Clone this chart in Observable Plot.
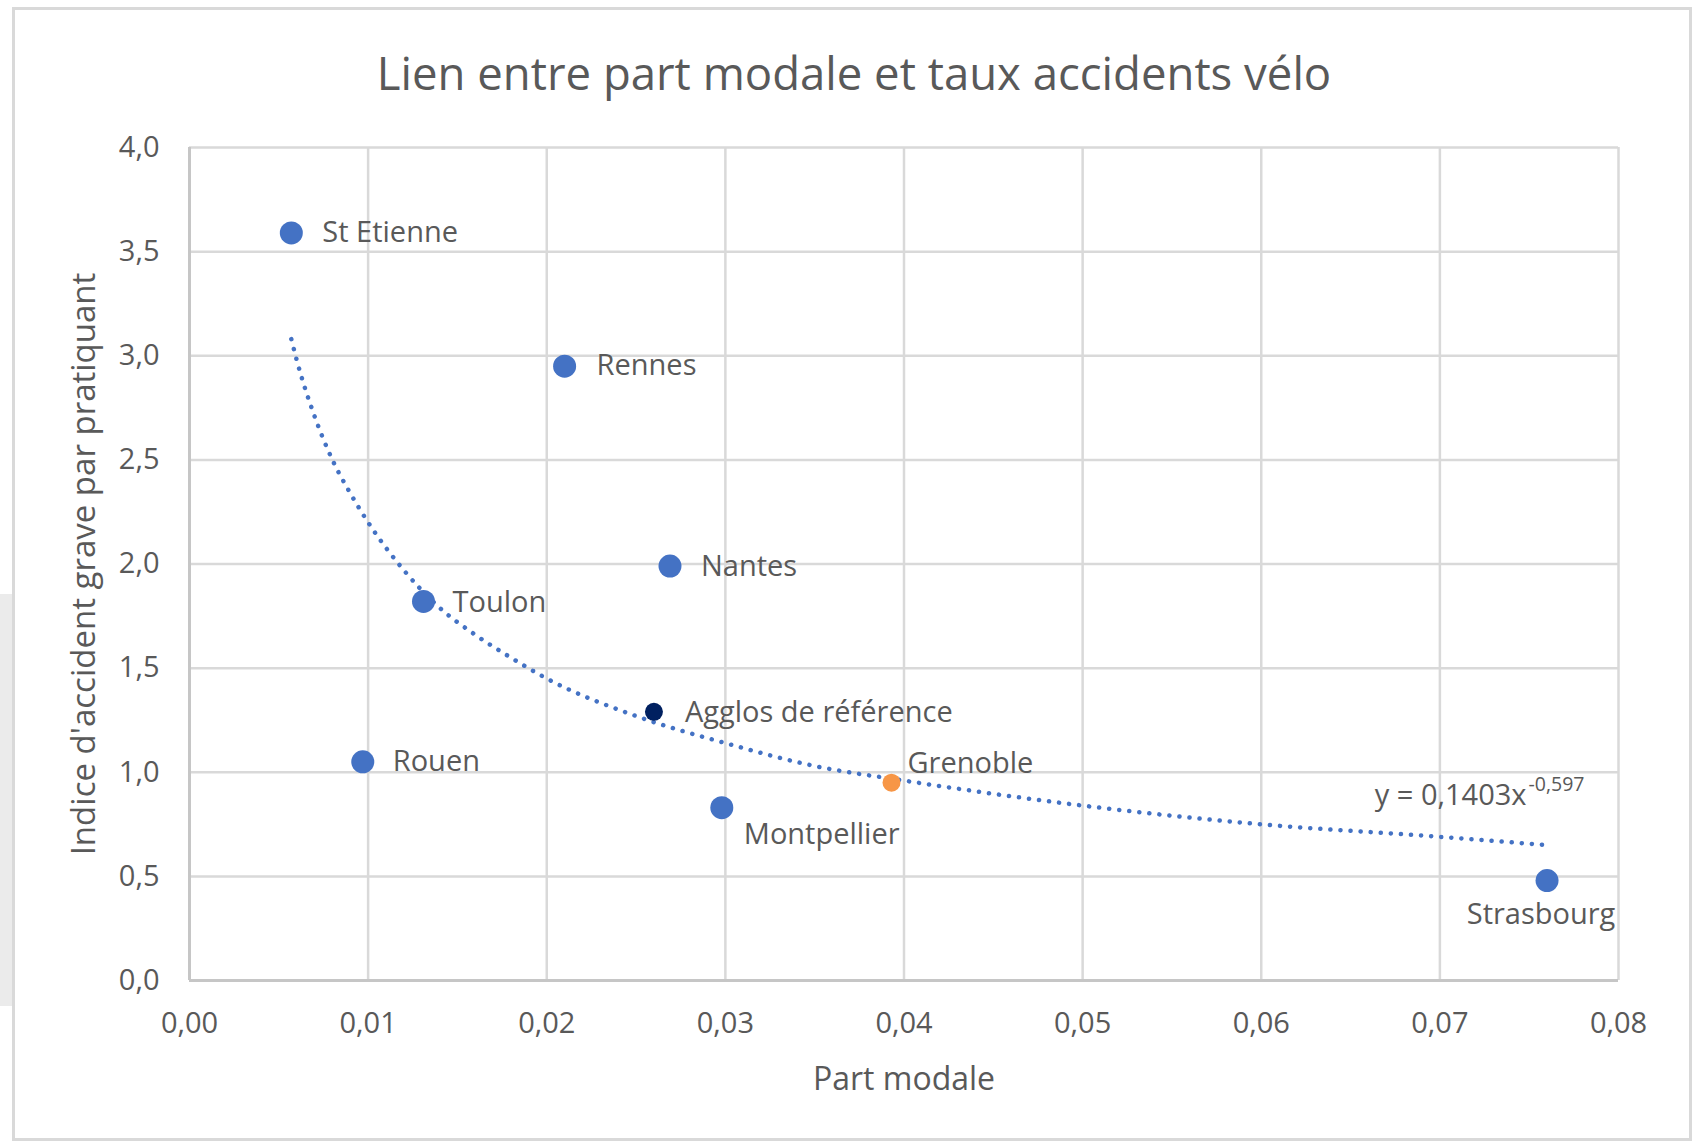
<!DOCTYPE html>
<html>
<head>
<meta charset="utf-8">
<script src="https://cdn.jsdelivr.net/npm/d3@7"></script>
<script src="https://cdn.jsdelivr.net/npm/@observablehq/plot@0.6"></script>
<style>
  html, body { margin: 0; padding: 0; background: #ffffff; }
  #wrap { position: relative; width: 1694px; height: 1143px; overflow: hidden; font-family: "Open Sans", sans-serif; }
  #shade { position: absolute; left: 0; top: 594px; width: 12px; height: 412px; background: #ebebeb; }
  #frame { position: absolute; left: 12px; top: 7px; width: 1680px; height: 1134px; border: 3px solid #d9d9d9; box-sizing: border-box; pointer-events: none; }
  #title { height: 78px; padding-top: 42px; line-height: 60px; font-size: 45.5px; color: #595959; text-align: center; padding-left: 14px; }
  #chart { position: relative; }
</style>
</head>
<body>
<div id="wrap">
  <div id="shade"></div>
  <div id="frame"></div>
  <div id="title">Lien entre part modale et taux accidents vélo</div>
  <div id="chart"></div>
</div>
<script>
// ---- Data ----
const villes = ["St Etienne", "Rennes", "Nantes", "Toulon", "Agglos de référence", "Rouen", "Grenoble", "Montpellier", "Strasbourg"];
const partModale = [0.0057, 0.0210, 0.0269, 0.0131, 0.0260, 0.0097, 0.0393, 0.0298, 0.0760];
const indice = [3.59, 2.95, 1.99, 1.82, 1.29, 1.05, 0.95, 0.83, 0.48];
const groupe = ["Ville", "Ville", "Ville", "Ville", "Référence", "Ville", "Grenoble", "Ville", "Ville"];

// Power trendline (dotted curve)
const trendX = [0.0057, 0.006, 0.007, 0.008, 0.009, 0.010, 0.012, 0.014, 0.016, 0.018, 0.020, 0.025, 0.030, 0.035, 0.040, 0.050, 0.060, 0.070, 0.076];
const trendY = [3.08, 2.98, 2.71, 2.50, 2.34, 2.20, 1.97, 1.79, 1.66, 1.55, 1.45, 1.27, 1.14, 1.03, 0.96, 0.84, 0.75, 0.69, 0.65];
const equationMain = "y = 0,1403x";
const equationExp = "-0,597";

const xTicks = [0, 0.01, 0.02, 0.03, 0.04, 0.05, 0.06, 0.07, 0.08];
const yTicks = [0, 0.5, 1, 1.5, 2, 2.5, 3, 3.5, 4];
const xLabel = "Part modale";
const yLabel = "Indice d'accident grave par pratiquant";

// ---- Build tables ----
const points = villes.map((v, i) => ({ ville: v, x: partModale[i], y: indice[i], groupe: groupe[i] }));
const trend = trendX.map((x, i) => ({ x, y: trendY[i] }));

// ---- Styles / layout (kept apart from the data) ----
const colors = { "Ville": "#4472C4", "Référence": "#002060", "Grenoble": "#F79646" };
const labelLayout = {
  "St Etienne": { dx: 31, dy: 0, anchor: "start" },
  "Rennes": { dx: 32, dy: 0, anchor: "start" },
  "Nantes": { dx: 31, dy: 1, anchor: "start" },
  "Toulon": { dx: 29, dy: 1, anchor: "start" },
  "Agglos de référence": { dx: 31, dy: 1, anchor: "start" },
  "Rouen": { dx: 30, dy: 0, anchor: "start" },
  "Grenoble": { dx: 16, dy: -19, anchor: "start" },
  "Montpellier": { dx: 22, dy: 27, anchor: "start" },
  "Strasbourg": { dx: -6, dy: 34, anchor: "middle" }
};
const textColor = "#595959";
const fmt = (d, n) => d.toFixed(n).replace(".", ",");

const labelMarks = points.map(p => {
  const L = labelLayout[p.ville];
  return Plot.text([p], { x: "x", y: "y", text: "ville", dx: L.dx, dy: L.dy, textAnchor: L.anchor, lineAnchor: "middle", fill: textColor, fontSize: 29 });
});

const chart = Plot.plot({
  width: 1694,
  height: 1023,
  marginTop: 27,
  marginBottom: 163,
  marginLeft: 189,
  marginRight: 76,
  style: { fontFamily: "'Open Sans', sans-serif", fontSize: "29px", color: textColor, background: "transparent", overflow: "visible" },
  x: { domain: [0, 0.08] },
  y: { domain: [0, 4] },
  marks: [
    Plot.gridX(xTicks, { stroke: "#d9d9d9", strokeOpacity: 1, strokeWidth: 2.5 }),
    Plot.gridY(yTicks, { stroke: "#d9d9d9", strokeOpacity: 1, strokeWidth: 2.5 }),
    Plot.ruleX([0], { stroke: "#c6c6c6", strokeWidth: 3 }),
    Plot.ruleY([0], { stroke: "#c6c6c6", strokeWidth: 3 }),
    Plot.axisX(xTicks, { tickSize: 0, tickPadding: 32, tickFormat: d => fmt(d, 2), fontSize: 29, label: null, fill: textColor }),
    Plot.axisY(yTicks, { tickSize: 0, tickPadding: 30, tickFormat: d => fmt(d, 1), fontSize: 29, label: null, fill: textColor }),
    Plot.text([xLabel], { frameAnchor: "bottom", dy: 99, lineAnchor: "middle", fontSize: 32, fill: textColor }),
    Plot.text([yLabel], { frameAnchor: "left", dx: -105, rotate: -90, textAnchor: "middle", lineAnchor: "middle", fontSize: 33, fill: textColor }),
    Plot.line(trend, { x: "x", y: "y", stroke: "#4472C4", strokeWidth: 4.5, strokeDasharray: "0.1,10", strokeLinecap: "round", curve: "monotone-x" }),
    Plot.dot(points.filter(p => p.groupe === "Ville"), { x: "x", y: "y", r: 11.5, fill: d => colors[d.groupe], stroke: null }),
    Plot.dot(points.filter(p => p.groupe !== "Ville"), { x: "x", y: "y", r: 9, fill: d => colors[d.groupe], stroke: null }),
    ...labelMarks,
    Plot.text([equationMain], { x: 0.07485, y: 0.888, textAnchor: "end", lineAnchor: "middle", fontSize: 29, fill: textColor }),
    Plot.text([equationExp], { x: 0.07485, y: 0.888, dx: 2, dy: -11, textAnchor: "start", lineAnchor: "middle", fontSize: 19.5, fill: textColor })
  ]
});
document.getElementById("chart").appendChild(chart);
</script>
</body>
</html>
